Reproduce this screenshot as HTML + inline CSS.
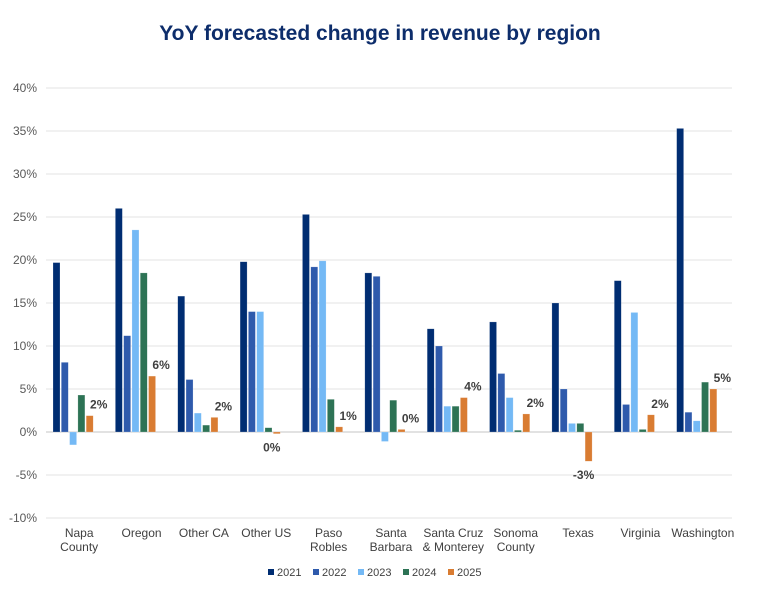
<!DOCTYPE html>
<html><head><meta charset="utf-8"><style>
body{margin:0;background:#fff;font-family:"Liberation Sans",Arial,sans-serif}
svg text{font-family:"Liberation Sans",Arial,sans-serif}
</style></head><body>
<svg id="chart" width="759" height="586" viewBox="0 0 759 586">
<text x="380" y="40" text-anchor="middle" font-size="21" font-weight="bold" fill="#0d2d6b">YoY forecasted change in revenue by region</text>
<g id="grid"></g><g id="bars"></g><g id="labels"></g><g id="legend"></g>
</svg>
<script>
const categories=[["Napa","County"],["Oregon"],["Other CA"],["Other US"],["Paso","Robles"],["Santa","Barbara"],["Santa Cruz","& Monterey"],["Sonoma","County"],["Texas"],["Virginia"],["Washington"]];
const seriesNames=["2021","2022","2023","2024","2025"];
const s2021=[19.7,26,15.8,19.8,25.3,18.5,12,12.8,15,17.6,35.3];
const s2022=[8.1,11.2,6.1,14,19.2,18.1,10,6.8,5,3.2,2.3];
const s2023=[-1.5,23.5,2.2,14,19.9,-1.1,3,4,1,13.9,1.3];
const s2024=[4.3,18.5,0.8,0.5,3.8,3.7,3,0.2,1,0.3,5.8];
const s2025=[1.9,6.5,1.7,-0.2,0.6,0.3,4,2.1,-3.4,2,5];
const labels2025=["2%","6%","2%","0%","1%","0%","4%","2%","-3%","2%","5%"];
const yTicks=[-10,-5,0,5,10,15,20,25,30,35,40];
const colors=["#002d72","#2e5aac","#74b9f5","#2d7355","#d97c32"];
const series=[s2021,s2022,s2023,s2024,s2025];
const NS="http://www.w3.org/2000/svg";
const L=46,R=732,cw=(R-L)/categories.length;
const y=v=>432-v*8.6;
function mk(t,a,p){const e=document.createElementNS(NS,t);for(const k in a)e.setAttribute(k,a[k]);p.appendChild(e);return e;}
const grid=document.getElementById('grid');
yTicks.forEach(t=>{
 const l=mk('line',{x1:L,x2:R,y1:y(t),y2:y(t),stroke:t===0?'#d9d9d9':'#e3e3e3','stroke-width':t===0?1.5:1},grid);
 
 
 const tx=mk('text',{x:37,y:y(t)+4,'text-anchor':'end','font-size':12,fill:'#595959'},grid);
 tx.textContent=t+'%';
 
 
});
const bars=document.getElementById('bars'),lab=document.getElementById('labels');
categories.forEach((c,i)=>{
 const x0=L+i*cw+7;
 series.forEach((s,j)=>{
  const v=s[i],top=Math.min(y(v),y(0)),h=Math.max(Math.abs(y(v)-y(0)),1);
  const r=mk('rect',{x:x0+j*8.3,y:top,width:7,height:h,fill:colors[j],stroke:'#fff','stroke-opacity':0.4,'stroke-width':0.5},bars);
  
  
 });
 const v=s2025[i],bx=x0+4*8.3+3.5;
 const t=mk('text',{x:v<=0?bx-5:bx+9,y:v<=0?y(Math.min(v,0))+18:y(v)-7,'text-anchor':'middle','font-size':12,'font-weight':'bold',fill:'#404040'},lab);
 t.textContent=labels2025[i];
 
 
 c.forEach((ln,k)=>{
  const ct=mk('text',{x:L+i*cw+cw/2+2,y:537+k*14,'text-anchor':'middle','font-size':12,fill:'#404040'},lab);
  ct.textContent=ln;
  
  
 });
});
const lg=document.getElementById('legend');
seriesNames.forEach((n,j)=>{
 const x=268+j*45;
 const r=mk('rect',{x:x,y:569,width:6,height:6,fill:colors[j]},lg);
 
 
 const t=mk('text',{x:x+9,y:576,'font-size':11,fill:'#404040'},lg);
 t.textContent=n;
 
 
});
</script>
</body></html>
